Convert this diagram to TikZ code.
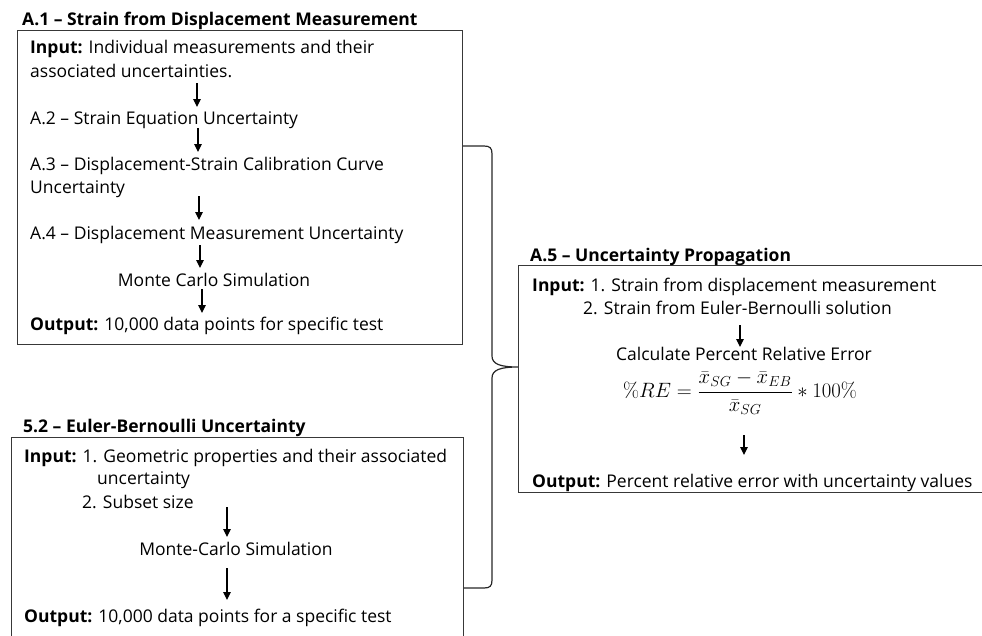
\documentclass[tikz,border=0pt]{standalone}
\usepackage[no-math]{fontspec}
\setmainfont{Open Sans}
\usepackage{amsmath}
\usetikzlibrary{arrows.meta}
\begin{document}
\begin{tikzpicture}[x=1pt,y=-1pt,
  box/.style={draw=black!78,line width=1.2pt,rectangle,inner sep=0pt,anchor=north west},
  txt/.style={anchor=base west,inner sep=0pt,font=\fontsize{17.5}{20}\selectfont},
  ctxt/.style={anchor=base,inner sep=0pt,font=\fontsize{17.5}{20}\selectfont},
  ttl/.style={anchor=base west,inner sep=0pt,font=\fontsize{17.5}{20}\selectfont\bfseries},
  arr/.style={line width=1.1pt,-{Triangle[width=7.5pt,length=8pt]}},
  brace/.style={line width=1.2pt,black!85}]
\path[use as bounding box] (0,0) rectangle (982,635);
\clip (0,0) rectangle (982,635);
% boxes
\node[box,minimum width=445pt,minimum height=314pt] (A1) at (17,30) {};
\node[box,minimum width=452pt,minimum height=215pt] (B52) at (11,437) {};
\node[box,minimum width=475pt,minimum height=227pt] (A5) at (518,265) {};
% titles
\node[ttl] (tA1) at (22,25) {A.1 – Strain from Displacement Measurement};
\node[ttl] (tB52) at (23,432) {5.2 – Euler-Bernoulli Uncertainty};
\node[ttl] (tA5) at (530,261) {A.5 – Uncertainty Propagation};
% A.1 content
\node[txt] (a1in) at (30,53) {\textbf{Input:} Individual measurements and their};
\node[txt] (a1in2) at (30,77) {associated uncertainties.};
\node[txt] (a2) at (30,124) {A.2 – Strain Equation Uncertainty};
\node[txt] (a3) at (30,170) {A.3 – Displacement-Strain Calibration Curve};
\node[txt] (a3b) at (30,193) {Uncertainty};
\node[txt] (a4) at (30,239) {A.4 – Displacement Measurement Uncertainty};
\node[ctxt] (mc1) at (214,286) {Monte Carlo Simulation};
\node[txt] (a1out) at (30,330) {\textbf{Output:} 10,000 data points for specific test};
% 5.2 content
\node[txt] (bin) at (24,462) {\textbf{Input:} 1. Geometric properties and their associated};
\node[txt] (bin2) at (97,484) {uncertainty};
\node[txt] (bin3) at (82,508) {2. Subset size};
\node[ctxt] (mc2) at (236,555) {Monte-Carlo Simulation};
\node[txt] (bout) at (24,622) {\textbf{Output:} 10,000 data points for a specific test};
% A.5 content
\node[txt] (cin) at (532,291) {\textbf{Input:} 1. Strain from displacement measurement};
\node[txt] (cin2) at (583,314) {2. Strain from Euler-Bernoulli solution};
\node[ctxt] (calc) at (744,360) {Calculate Percent Relative Error};
\node[inner sep=0pt,font=\fontsize{20.74}{24}\selectfont] (form) at (740,393)
  {$\%RE = \dfrac{\bar{x}_{SG} - \bar{x}_{EB}}{\bar{x}_{SG}} * 100\%$};
\node[txt] (cout) at (532,487) {\textbf{Output:} Percent relative error with uncertainty values};
% arrow coordinates
\coordinate (p1a) at (197,83);  \coordinate (p1b) at (197,107);
\coordinate (p2a) at (198,128); \coordinate (p2b) at (198,152);
\coordinate (p3a) at (199,196); \coordinate (p3b) at (199,220);
\coordinate (p4a) at (200,245); \coordinate (p4b) at (200,268);
\coordinate (p5a) at (202,289); \coordinate (p5b) at (202,313);
\coordinate (q1a) at (227,507); \coordinate (q1b) at (227,537);
\coordinate (q2a) at (227,568); \coordinate (q2b) at (227,600);
\coordinate (r1a) at (740,325); \coordinate (r1b) at (740,347);
\coordinate (r2a) at (744,435); \coordinate (r2b) at (744,455);
\foreach \s in {p1,p2,p3,p4,p5,q1,q2,r1,r2}{\draw[arr] (\s a) -- (\s b);}
% brace
\coordinate (bt) at (A1.east |- 0,146);
\coordinate (bm) at (A5.west |- 0,367);
\coordinate (bb) at (B52.east |- 0,588);
\draw[brace] (bt) -- (484,146) .. controls (490,146) and (492,148) .. (492,154)
  -- (492,356) .. controls (492,364) and (500,367) .. (bm)
  .. controls (500,367) and (492,370) .. (492,378)
  -- (492,580) .. controls (492,586) and (490,588) .. (484,588) -- (bb);
\end{tikzpicture}
\end{document}
